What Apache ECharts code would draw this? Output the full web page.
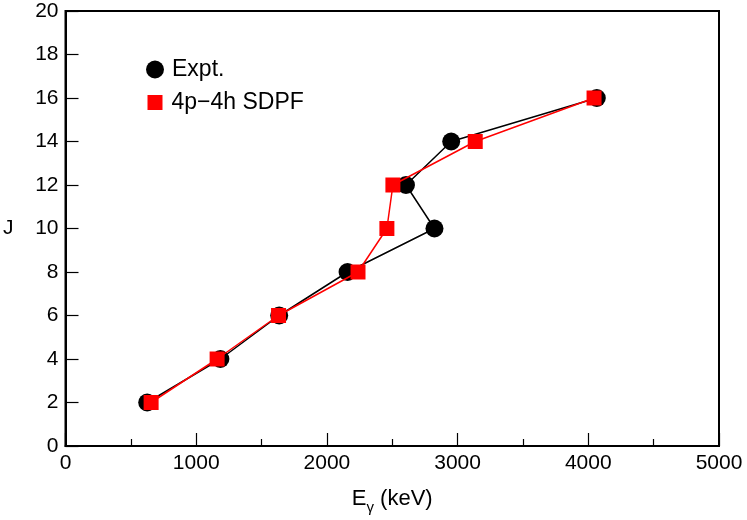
<!DOCTYPE html>
<html>
<head>
<meta charset="utf-8">
<script src="https://cdn.jsdelivr.net/npm/echarts@6/dist/echarts.min.js"></script>
<style>
html,body{margin:0;padding:0;background:#fff;}
#c{width:747px;height:520px;}
</style>
</head>
<body>
<div id="c"></div>
<script>
const J = [2, 4, 6, 8, 10, 12, 14, 16];
const exptE = [625, 1185, 1635, 2158, 2823, 2605, 2951, 4065];
const sdpfE = [655, 1160, 1630, 2238, 2459, 2505, 3135, 4044];
const xTicks = [0, 1000, 2000, 3000, 4000, 5000];
const yTicks = [0, 2, 4, 6, 8, 10, 12, 14, 16, 18, 20];
const seriesNames = ['Expt.', '4p\u22124h SDPF'];

const FONT = '"Liberation Sans", Arial, Helvetica, sans-serif';
const chart = echarts.init(document.getElementById('c'), null, {renderer: 'canvas'});

const exptData = J.map((j, i) => [exptE[i], j]);
const sdpfData = J.map((j, i) => [sdpfE[i], j]);

chart.setOption({
  animation: false,
  backgroundColor: '#ffffff',
  grid: {
    left: 65, right: 28, top: 11, bottom: 74,
    show: true, borderColor: '#000', borderWidth: 2, backgroundColor: 'transparent'
  },
  legend: [
    {
      data: [{name: seriesNames[0], icon: 'circle'}],
      left: 146, top: 58, padding: 0,
      itemWidth: 18, itemHeight: 18,
      textStyle: {fontFamily: FONT, fontSize: 23, color: '#000', padding: [0, 0, 0, 3]}
    },
    {
      data: [{name: seriesNames[1], icon: 'rect'}],
      left: 147.5, top: 91, padding: 0,
      itemWidth: 15, itemHeight: 15,
      textStyle: {fontFamily: FONT, fontSize: 23, color: '#000', padding: [0, 0, 0, 4]}
    }
  ],
  xAxis: {
    type: 'value',
    min: xTicks[0], max: xTicks[xTicks.length - 1], interval: 1000,
    name: '{a|E}{b|\u03b3}{a| (keV)}',
    nameLocation: 'middle', nameGap: 38,
    nameTextStyle: {
      rich: {
        a: {fontFamily: FONT, fontSize: 22, color: '#000', verticalAlign: 'bottom', lineHeight: 26},
        b: {fontFamily: FONT, fontSize: 15, color: '#000', verticalAlign: 'bottom', lineHeight: 18, padding: [0, 0, -5, 0]}
      }
    },
    axisLine: {show: true, onZero: false, lineStyle: {color: '#000', width: 2}},
    axisTick: {show: true, inside: true, length: 13, lineStyle: {color: '#000', width: 1.2}},
    minorTick: {show: true, splitNumber: 2, length: 7, lineStyle: {color: '#000', width: 1.2}},
    axisLabel: {fontFamily: FONT, fontSize: 21, color: '#000', margin: 7, formatter: v => String(v)},
    splitLine: {show: false},
    minorSplitLine: {show: false}
  },
  yAxis: {
    type: 'value',
    min: yTicks[0], max: yTicks[yTicks.length - 1], interval: 2,
    name: 'J',
    nameLocation: 'middle', nameRotate: 0, nameGap: 52,
    nameTextStyle: {fontFamily: FONT, fontSize: 21, color: '#000'},
    axisLine: {show: true, onZero: false, lineStyle: {color: '#000', width: 2}},
    axisTick: {show: true, inside: true, length: 13, lineStyle: {color: '#000', width: 1.2}},
    axisLabel: {fontFamily: FONT, fontSize: 21, color: '#000', margin: 7, formatter: v => String(v)},
    splitLine: {show: false}
  },
  series: [
    {
      name: seriesNames[0], type: 'line', data: exptData,
      symbol: 'circle', symbolSize: 18,
      lineStyle: {color: '#000', width: 1.5},
      itemStyle: {color: '#000'},
      z: 2
    },
    {
      name: seriesNames[1], type: 'line', data: sdpfData,
      symbol: 'rect', symbolSize: 15,
      lineStyle: {color: '#ff0000', width: 1.5},
      itemStyle: {color: '#ff0000'},
      z: 3
    }
  ]
});
</script>
</body>
</html>
